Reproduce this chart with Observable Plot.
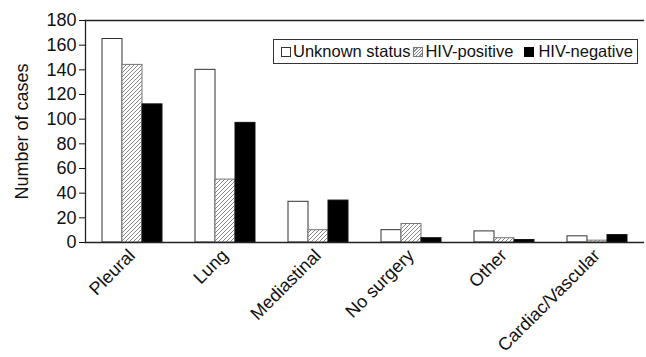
<!DOCTYPE html>
<html>
<head>
<meta charset="utf-8">
<script src="https://cdn.jsdelivr.net/npm/d3@7"></script>
<script src="https://cdn.jsdelivr.net/npm/@observablehq/plot@0.6"></script>
<style>
  html, body { margin: 0; padding: 0; background: #fff; }
  #wrap { position: relative; width: 646px; height: 357px; overflow: hidden; font-family: "Liberation Sans", Arial, sans-serif; }
  #legend { position: absolute; left: 273px; top: 39px; width: 363px; height: 23px; border: 1px solid #333; box-sizing: content-box;
    font-size: 16.5px; color: #111; display: flex; align-items: center; white-space: nowrap; }
  .sw { display: inline-block; width: 8px; height: 8px; border: 1px solid #333; vertical-align: middle; }
  .sw.hatch { border-color: #777; background: repeating-linear-gradient(-45deg, #fff 0 1.3px, #888 1.3px 2.3px); }
  .sw.black { background: #000; border-color: #000; }
  .item { display: inline-flex; align-items: center; }
</style>
</head>
<body>
<div id="wrap"><div id="legend"></div></div>
<script>
const categories = ["Pleural", "Lung", "Mediastinal", "No surgery", "Other", "Cardiac/Vascular"];
const statuses = ["Unknown status", "HIV-positive", "HIV-negative"];
const unknownStatus = [165, 140, 33, 10, 9, 5];
const hivPositive = [144, 51, 10, 15, 3.5, 1.5];
const hivNegative = [112, 97, 34, 3.5, 2, 6];
const yTicks = [0, 20, 40, 60, 80, 100, 120, 140, 160, 180];

const series = [unknownStatus, hivPositive, hivNegative];
const rows = statuses.map((s, i) => categories.map((c, j) => ({cat: c, status: s, value: series[i][j]})));

const chart = Plot.plot({
  width: 646,
  height: 357,
  marginTop: 20,
  marginBottom: 115,
  marginLeft: 82,
  marginRight: 1,
  style: {fontFamily: "'Liberation Sans', Arial, sans-serif", fontSize: "18px", color: "#111", background: "#fff"},
  fx: {domain: categories, padding: 0, label: null},
  x: {domain: statuses, paddingInner: 0, paddingOuter: 0.77, axis: null},
  y: {domain: [0, 180], label: "Number of cases"},
  marks: [
    Plot.barY(rows[0], {fx: "cat", x: "status", y: "value", fill: "#fff", stroke: "#333", strokeWidth: 1}),
    Plot.barY(rows[1], {fx: "cat", x: "status", y: "value", fill: "url(#hatch)", stroke: "#777", strokeWidth: 1}),
    Plot.barY(rows[2], {fx: "cat", x: "status", y: "value", fill: "#000", stroke: "#111", strokeWidth: 1}),
    Plot.frame({anchor: "top", facet: "super", stroke: "#222", strokeWidth: 1.3}),
    Plot.frame({anchor: "bottom", facet: "super", stroke: "#222", strokeWidth: 1.3}),
    Plot.frame({anchor: "left", facet: "super", stroke: "#222", strokeWidth: 1.3}),
    Plot.axisY({ticks: yTicks, tickSize: 6, tickPadding: 3, fontSize: 18, label: "Number of cases", labelAnchor: "center", labelArrow: "none", labelOffset: 70}),
    Plot.axisFx({anchor: "bottom", tickRotate: -45, tickSize: 0, tickPadding: 10, fontSize: 18, label: null})
  ]
});

const svg = d3.select(chart);
svg.insert("defs", ":first-child").html(
  '<pattern id="hatch" patternUnits="userSpaceOnUse" width="4" height="4">' +
  '<rect width="4" height="4" fill="#fff"/>' +
  '<path d="M-1,1 l2,-2 M0,4 l4,-4 M3,5 l2,-2" stroke="#888" stroke-width="1"/></pattern>'
);
document.getElementById("wrap").insertBefore(chart, document.getElementById("legend"));

const legend = d3.select("#legend");
const swClass = ["sw", "sw hatch", "sw black"];
const swGap = ["7px", "3px", "11px"];
const txtGap = ["2px", "2px", "4px"];
statuses.forEach((s, i) => {
  const it = legend.append("span").attr("class", "item");
  it.append("span").attr("class", swClass[i]).style("margin-left", swGap[i]).style("margin-right", txtGap[i]);
  it.append("span").text(s);
});
</script>
</body>
</html>
